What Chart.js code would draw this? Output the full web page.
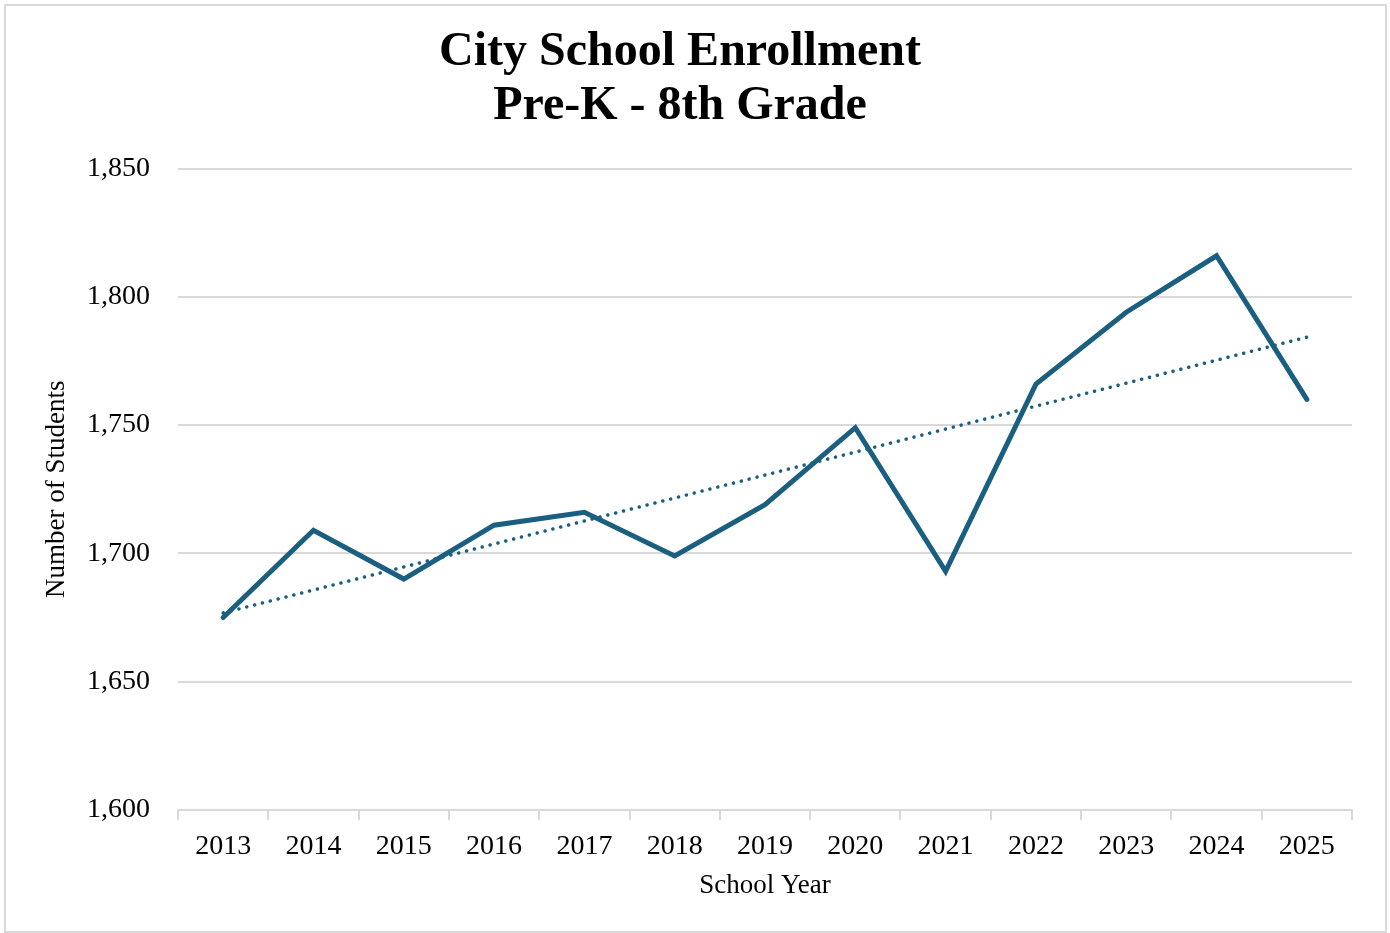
<!DOCTYPE html>
<html>
<head>
<meta charset="utf-8">
<script src="https://cdn.jsdelivr.net/npm/chart.js@4"></script>
<style>
  body { margin: 0; background: #fff; }
  #wrap { position: relative; width: 1390px; height: 933px; }
  #frame { position: absolute; left: 4px; top: 4px; width: 1379px; height: 925px; border: 2px solid #d9d9d9; pointer-events: none; }
  canvas { position: absolute; left: 0; top: 0; }
</style>
</head>
<body>
<div id="wrap">
  <canvas id="enrollChart" width="1390" height="933"></canvas>
  <div id="frame"></div>
</div>
<script>
var years = ['2013', '2014', '2015', '2016', '2017', '2018', '2019', '2020', '2021', '2022', '2023', '2024', '2025'];
var students = [1675, 1709, 1690, 1711, 1716, 1699, 1719, 1749, 1693, 1766, 1794, 1816, 1760];
var yTicks = [1600, 1650, 1700, 1750, 1800, 1850];

// least squares trend over the enrollment values
function linearTrend(values) {
    var n = values.length, sx = 0, sy = 0, sxy = 0, sxx = 0;
    for (var i = 0; i < n; i++) {
        sx += i; sy += values[i]; sxy += i * values[i]; sxx += i * i;
    }
    var slope = (n * sxy - sx * sy) / (n * sxx - sx * sx);
    var icpt = (sy - slope * sx) / n;
    return values.map(function (v, i) { return icpt + slope * i; });
}

var serif = "'Liberation Serif', 'Times New Roman', serif";
var lineColor = '#1a5f80';

var ctx = document.getElementById('enrollChart').getContext('2d');
var enrollChart = new Chart(ctx, {
    type: 'line',
    data: {
        labels: years,
        datasets: [{
            label: 'Enrollment',
            data: students,
            borderColor: lineColor,
            borderWidth: 5,
            pointRadius: 0,
            tension: 0,
            borderJoinStyle: 'miter',
            borderCapStyle: 'round'
        }, {
            label: 'Linear trend',
            data: linearTrend(students),
            borderColor: lineColor,
            borderWidth: 3.5,
            borderDash: [0.1, 8],
            borderCapStyle: 'round',
            pointRadius: 0
        }]
    },
    options: {
        responsive: false,
        animation: false,
        layout: { padding: { left: 8, right: 38, top: 8, bottom: 31 } },
        plugins: {
            legend: { display: false },
            tooltip: { enabled: false },
            title: {
                display: true,
                text: ['City School Enrollment', 'Pre-K - 8th Grade'],
                color: '#000',
                font: { family: serif, size: 48, weight: 'bold', lineHeight: 1.12 },
                padding: { top: 18, bottom: 35 }
            }
        },
        scales: {
            x: {
                offset: true,
                grid: {
                    offset: true,
                    drawOnChartArea: false,
                    color: '#d9d9d9',
                    lineWidth: 2,
                    tickLength: 10
                },
                border: { display: true, color: '#d9d9d9', width: 2 },
                ticks: {
                    color: '#000',
                    font: { family: serif, size: 28 },
                    padding: 10,
                    maxRotation: 0
                },
                title: {
                    display: true,
                    text: 'School Year',
                    color: '#000',
                    font: { family: serif, size: 27 },
                    padding: { top: 0, bottom: 0 }
                },
                afterFit: function (scale) { scale.height = 92; }
            },
            y: {
                min: 1600,
                max: 1850,
                afterBuildTicks: function (scale) {
                    scale.ticks = yTicks.map(function (v) { return { value: v }; });
                },
                grid: { color: '#d9d9d9', lineWidth: 2, drawTicks: false },
                border: { display: false },
                ticks: {
                    color: '#000',
                    font: { family: serif, size: 28 },
                    padding: 28,
                    callback: function (v) { return v.toLocaleString('en-US'); }
                },
                title: {
                    display: true,
                    text: 'Number of Students',
                    color: '#000',
                    font: { family: serif, size: 27 },
                    padding: { top: 33, bottom: 0 }
                },
                afterFit: function (scale) { scale.width = 170; }
            }
        }
    }
});
</script>
</body>
</html>
